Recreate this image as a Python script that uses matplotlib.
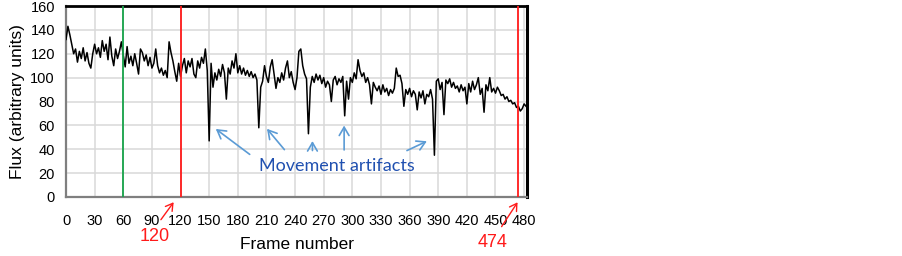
import numpy as np
from matplotlib import pyplot as plt

# flux, one value every 2 frames (0..482)
frames = np.arange(0, 484, 2)
flux = [
    132, 143, 136, 128, 120, 124, 113, 122, 116, 125, 114, 121, 112, 108, 120,
    128, 120, 125, 117, 131, 122, 128, 115, 134, 118, 110, 124, 116, 122, 130,
    119, 109, 126, 112, 118, 110, 120, 112, 103, 124, 121, 114, 119, 110, 117,
    108, 112, 124, 110, 104, 108, 102, 106, 100, 130, 121, 114, 105, 97, 112,
    101, 110, 116, 104, 114, 109, 116, 103, 100, 114, 108, 117, 112, 124, 106,
    47, 112, 92, 104, 98, 107, 101, 111, 104, 82, 108, 103, 114, 108, 120,
    104, 110, 103, 108, 102, 106, 101, 105, 100, 103, 98, 58, 92, 97, 110,
    101, 96, 109, 115, 103, 91, 100, 96, 104, 98, 108, 114, 100, 105, 96,
    90, 100, 122, 124, 110, 103, 99, 53, 92, 101, 96, 103, 98, 102, 95,
    100, 92, 97, 94, 80, 98, 101, 94, 99, 96, 101, 68, 97, 82, 100,
    96, 104, 99, 115, 106, 101, 104, 96, 100, 94, 78, 96, 92, 89, 93,
    86, 94, 88, 91, 85, 90, 87, 91, 108, 101, 102, 95, 76, 90, 86,
    91, 84, 89, 86, 73, 88, 83, 89, 78, 86, 84, 90, 82, 35, 97,
    99, 90, 96, 69, 98, 95, 99, 92, 96, 91, 93, 88, 94, 89, 92,
    78, 95, 88, 97, 90, 94, 100, 86, 91, 71, 94, 89, 100, 88, 91,
    87, 92, 89, 85, 86, 82, 84, 80, 81, 78, 79, 75, 76, 72, 74,
    78, 76,
]

baseline_frame = 60
window = [120, 474]
x_ticks = list(range(0, 481, 30))
y_ticks = list(range(0, 161, 20))

# arrows to the artifact dips: (tail, head) in data units
artifact_arrows = [
    ((194.8, 34.3), (154.6, 58.4)),
    ((230.7, 37.9), (208.7, 58.9)),
    ((258.2, 36.6), (258.2, 49.2)),
    ((291.4, 37.1), (291.4, 62.2)),
    ((354.6, 37.9), (380.7, 47.7)),
]

fig = plt.figure(figsize=(9.03, 2.56), dpi=100)
ax = fig.add_axes([0.0731, 0.2305, 0.5105, 0.746])

ax.set_xlim(0, 483)
ax.set_ylim(0, 160)
ax.set_xticks(x_ticks)
ax.set_yticks(y_ticks)
ax.grid(True, color='#d9d9d9', linewidth=1.1)
ax.set_axisbelow(True)
ax.tick_params(length=0, labelsize=10.5)
ax.tick_params(axis='x', pad=12)
ax.tick_params(axis='y', pad=8)
for lab in ax.get_xticklabels() + ax.get_yticklabels():
    lab.set_family('Liberation Sans')

ax.spines['left'].set_color('#7f7f7f')
ax.spines['bottom'].set_color('#7f7f7f')
ax.spines['left'].set_linewidth(1.6)
ax.spines['bottom'].set_linewidth(1.6)
ax.spines['top'].set_color('black')
ax.spines['right'].set_color('black')
ax.spines['top'].set_linewidth(2)
ax.spines['right'].set_linewidth(2.2)

ax.plot(frames, flux, color='black', linewidth=1.1, zorder=3)

ax.axvline(baseline_frame, color='#17a34a', linewidth=1.3, zorder=4)
for f in window:
    ax.axvline(f, color='#ff1a1a', linewidth=1.3, zorder=4)

ax.set_xlabel('Frame number', fontsize=12.5, family='Liberation Sans', labelpad=7)
ax.set_ylabel('Flux (arbitrary units)', fontsize=12.5, family='Liberation Sans', labelpad=4)

red_arrow = dict(arrowstyle='->,head_length=0.5,head_width=0.3', color='#ff1a1a', lw=1.0)
# red frame labels under the axis
ax.annotate('', xy=(window[0] - 5.5, -2.5), xytext=(97.7, -20.9),
            arrowprops=red_arrow, annotation_clip=False)
ax.text(92.5, -33, str(window[0]), color='#ff1a1a', fontsize=13,
        family='Liberation Sans', ha='center', va='center', clip_on=False)
ax.annotate('', xy=(window[1] + 0.7, -2.5), xytext=(454.8, -26.8),
            arrowprops=red_arrow, annotation_clip=False)
ax.text(447.4, -38, str(window[1]), color='#ff1a1a', fontsize=13,
        family='Liberation Sans', ha='center', va='center', clip_on=False)

for tail, head in artifact_arrows:
    ax.annotate('', xy=head, xytext=tail,
                arrowprops=dict(arrowstyle='->,head_length=0.6,head_width=0.35',
                                color='#5b9bd5', lw=1.2))
ax.text(284, 26, 'Movement artifacts', color='#2050b0', fontsize=13,
        family='Lato', ha='center', va='center', zorder=5)

fig.savefig('out.png', dpi=100)
